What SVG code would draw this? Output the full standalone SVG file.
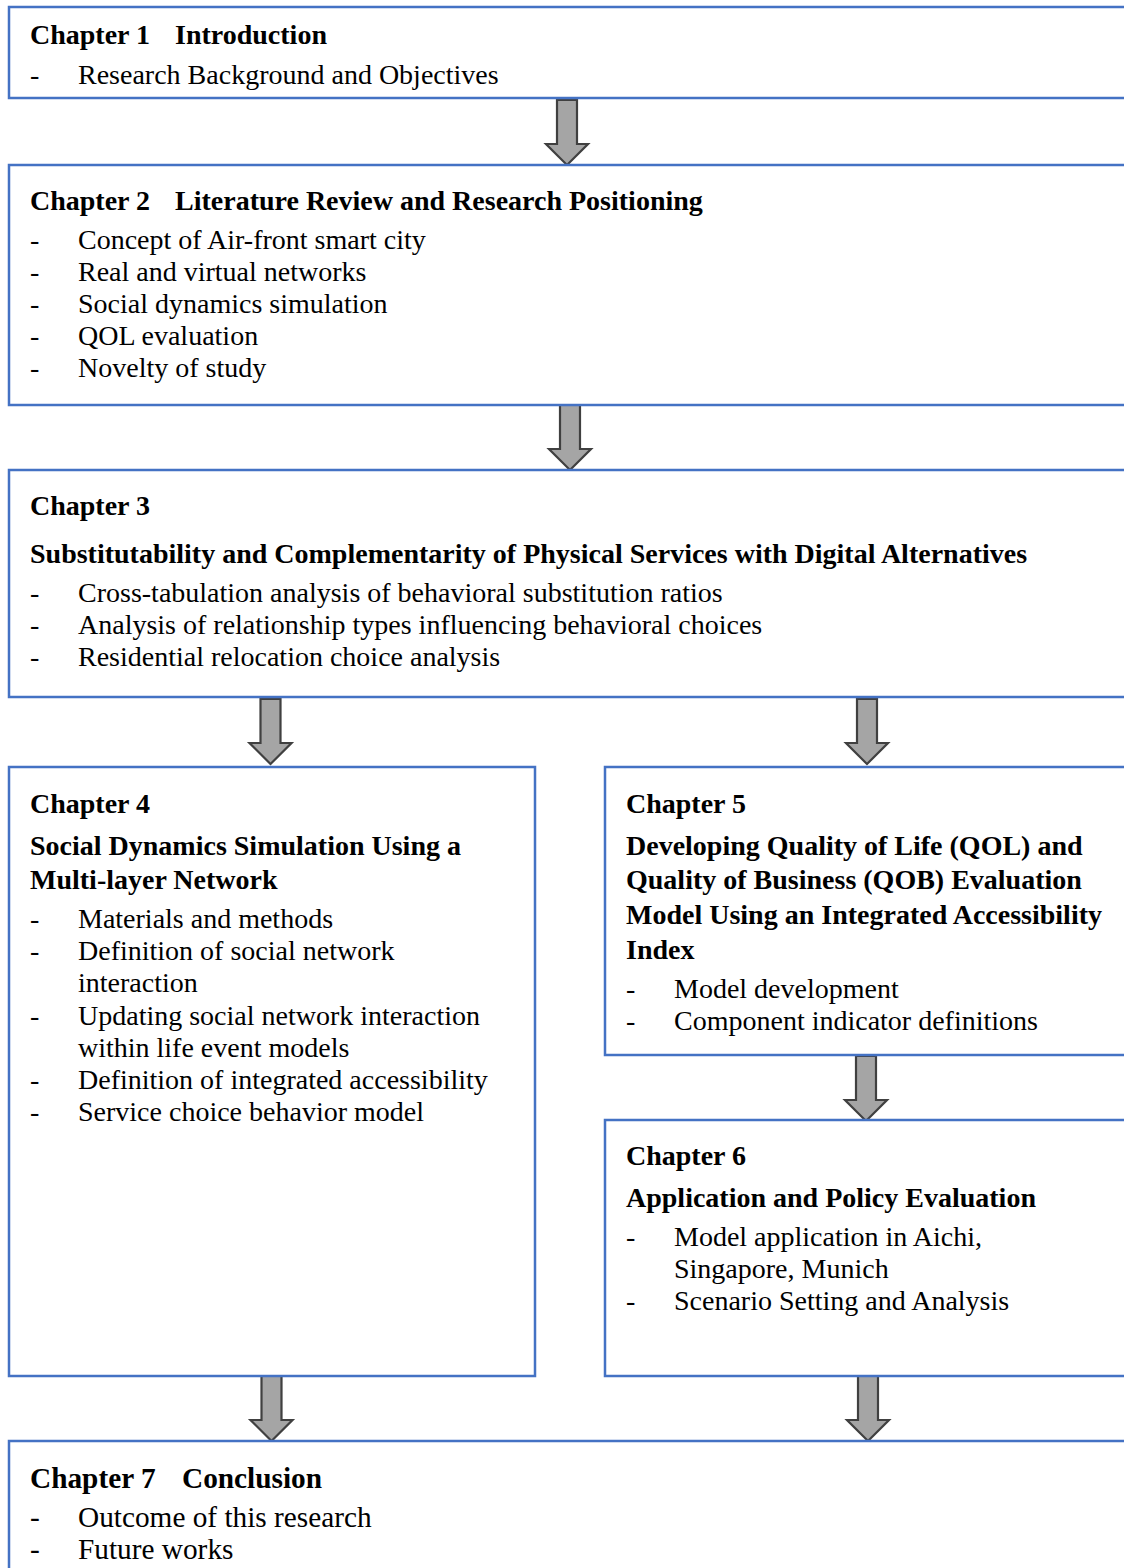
<svg xmlns="http://www.w3.org/2000/svg" xmlns:xlink="http://www.w3.org/1999/xlink" width="1124" height="1568" viewBox="0 0 1124 1568">
<style>
.box{fill:#fff;stroke:#4472C4;stroke-width:2.5}
.h{font-family:"Liberation Serif","Times New Roman",serif;font-size:28px;font-weight:bold;fill:#000}
.t{font-family:"Liberation Serif","Times New Roman",serif;font-size:28px;fill:#000}
.big{font-size:29.3px}
.arr{fill:#A5A5A5;stroke:#404040;stroke-width:2.2;stroke-linejoin:miter}
</style>
<defs>
<path id="arrow" d="M-10,0 H10 V44 H21 L0,65 L-21,44 H-10 Z"/>
</defs>
<rect width="1124" height="1568" fill="#fff"/>
<g id="connectors">
<use xlink:href="#arrow" class="arr" transform="translate(567,100)"/>
<use xlink:href="#arrow" class="arr" transform="translate(570,405)"/>
<use xlink:href="#arrow" class="arr" transform="translate(270.5,699)"/>
<use xlink:href="#arrow" class="arr" transform="translate(867,699)"/>
<use xlink:href="#arrow" class="arr" transform="translate(866,1056)"/>
<use xlink:href="#arrow" class="arr" transform="translate(271.5,1376)"/>
<use xlink:href="#arrow" class="arr" transform="translate(868,1376)"/>
</g>
<g id="ch1">
<rect class="box" x="9" y="7" width="1130" height="91"/>
<text class="h" x="30" y="44">Chapter 1</text>
<text class="h" x="175" y="44">Introduction</text>
<text class="t" x="30" y="84">-</text>
<text class="t" x="78" y="84">Research Background and Objectives</text>
</g>
<g id="ch2">
<rect class="box" x="9" y="165" width="1130" height="240"/>
<text class="h" x="30" y="210">Chapter 2</text>
<text class="h" x="175" y="210">Literature Review and Research Positioning</text>
<text class="t" x="30" y="249">-</text><text class="t" x="78" y="249">Concept of Air-front smart city</text>
<text class="t" x="30" y="281">-</text><text class="t" x="78" y="281">Real and virtual networks</text>
<text class="t" x="30" y="313">-</text><text class="t" x="78" y="313">Social dynamics simulation</text>
<text class="t" x="30" y="345">-</text><text class="t" x="78" y="345">QOL evaluation</text>
<text class="t" x="30" y="377">-</text><text class="t" x="78" y="377">Novelty of study</text>
</g>
<g id="ch3">
<rect class="box" x="9" y="470" width="1130" height="227"/>
<text class="h" x="30" y="515">Chapter 3</text>
<text class="h" x="30" y="563">Substitutability and Complementarity of Physical Services with Digital Alternatives</text>
<text class="t" x="30" y="602">-</text><text class="t" x="78" y="602">Cross-tabulation analysis of behavioral substitution ratios</text>
<text class="t" x="30" y="634">-</text><text class="t" x="78" y="634">Analysis of relationship types influencing behavioral choices</text>
<text class="t" x="30" y="666">-</text><text class="t" x="78" y="666">Residential relocation choice analysis</text>
</g>
<g id="ch4">
<rect class="box" x="9" y="767" width="526" height="609"/>
<text class="h" x="30" y="813">Chapter 4</text>
<text class="h" x="30" y="855">Social Dynamics Simulation Using a</text>
<text class="h" x="30" y="889">Multi-layer Network</text>
<text class="t" x="30" y="928">-</text><text class="t" x="78" y="928">Materials and methods</text>
<text class="t" x="30" y="960">-</text><text class="t" x="78" y="960">Definition of social network</text>
<text class="t" x="78" y="992">interaction</text>
<text class="t" x="30" y="1025">-</text><text class="t" x="78" y="1025">Updating social network interaction</text>
<text class="t" x="78" y="1057">within life event models</text>
<text class="t" x="30" y="1089">-</text><text class="t" x="78" y="1089">Definition of integrated accessibility</text>
<text class="t" x="30" y="1121">-</text><text class="t" x="78" y="1121">Service choice behavior model</text>
</g>
<g id="ch5">
<rect class="box" x="605" y="767" width="534" height="288"/>
<text class="h" x="626" y="813">Chapter 5</text>
<text class="h" x="626" y="855">Developing Quality of Life (QOL) and</text>
<text class="h" x="626" y="889">Quality of Business (QOB) Evaluation</text>
<text class="h" x="626" y="924">Model Using an Integrated Accessibility</text>
<text class="h" x="626" y="959">Index</text>
<text class="t" x="626" y="998">-</text><text class="t" x="674" y="998">Model development</text>
<text class="t" x="626" y="1030">-</text><text class="t" x="674" y="1030">Component indicator definitions</text>
</g>
<g id="ch6">
<rect class="box" x="605" y="1120" width="534" height="256"/>
<text class="h" x="626" y="1165">Chapter 6</text>
<text class="h" x="626" y="1207">Application and Policy Evaluation</text>
<text class="t" x="626" y="1246">-</text><text class="t" x="674" y="1246">Model application in Aichi,</text>
<text class="t" x="674" y="1278">Singapore, Munich</text>
<text class="t" x="626" y="1310">-</text><text class="t" x="674" y="1310">Scenario Setting and Analysis</text>
</g>
<g id="ch7">
<rect class="box" x="9" y="1441" width="1130" height="150"/>
<text class="h big" x="30" y="1488">Chapter 7</text>
<text class="h big" x="182" y="1488">Conclusion</text>
<text class="t big" x="30" y="1527">-</text><text class="t big" x="78" y="1527">Outcome of this research</text>
<text class="t big" x="30" y="1559">-</text><text class="t big" x="78" y="1559">Future works</text>
</g>
</svg>
